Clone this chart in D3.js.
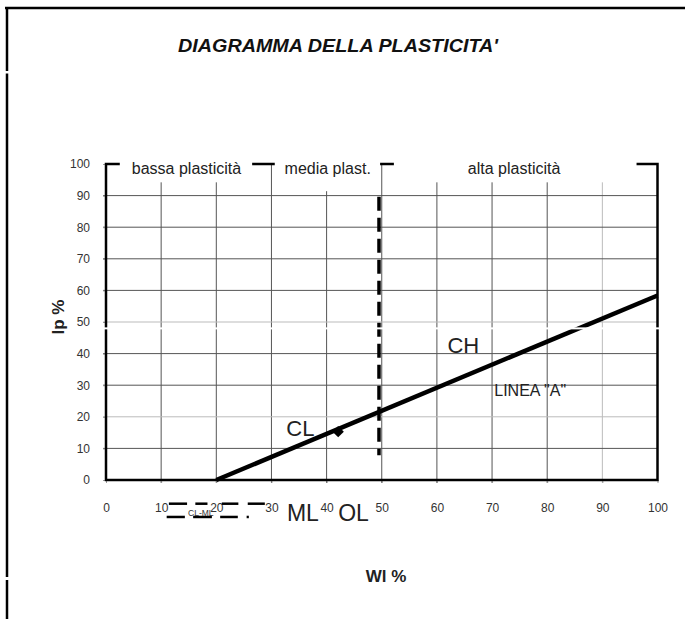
<!DOCTYPE html>
<html><head><meta charset="utf-8">
<script src="https://cdn.jsdelivr.net/npm/d3@7/dist/d3.min.js"></script>
<style>body{margin:0;background:#fff}svg{display:block}text{font-family:"Liberation Sans",Arial,sans-serif}</style>
</head><body>
<script>
// ---- data ----
const xTicks = [0,10,20,30,40,50,60,70,80,90,100];
const yTicks = [0,10,20,30,40,50,60,70,80,90,100];
const lightGridX = [90];
const lightGridY = [20,50];
const lineA = [{wl:20, ip:0},{wl:100, ip:58.4}];
const samples = [{wl:42.1, ip:15.3}];
const boundary = [{wl:49.5, ip:89.6},{wl:49.5, ip:7.8}];
const zoneNames = ["bassa plasticità","media plast.","alta plasticità"];
const zoneFrom = [2.5, 30.6, 52.2];
const zoneTo = [26.5, 49.7, 96.2];
const zoneBottom = [94.2, 91.4, 94.2];
const zoneTextX = [14.6, 40.2, 74.0];
const soilNames = ["CL","CH","LINEA \"A\"","ML","OL"];
const soilX = [32.7, 61.9, 70.4, 32.8, 42.1];
const soilY = [13.9, 40.2, 26.6, -13.0, -13.0];
const soilSize = [22, 22, 16, 23, 23];
const clmlTop = [[11.4,14.7],[16.2,18.4],[21.0,24.0],[25.7,28.8]];
const clmlBottom = [[11.0,14.3],[15.8,19.2],[20.7,23.9],[25.5,25.9]];
const clmlRowIp = [-7.5, -11.7];

// ---- drawing ----
const W = 685, H = 619;
const svg = d3.select("body").append("svg").attr("width", W).attr("height", H);
const x = d3.scaleLinear().domain([0,100]).range([106, 657.5]);
const y = d3.scaleLinear().domain([0,100]).range([480, 164]);

// outer frame
const frame = svg.append("g").attr("stroke","#000").attr("stroke-width",2.5);
frame.append("line").attr("x1",5).attr("x2",W).attr("y1",8).attr("y2",8);
frame.append("line").attr("x1",7).attr("x2",7).attr("y1",7).attr("y2",71);
frame.append("line").attr("x1",7).attr("x2",7).attr("y1",73.5).attr("y2",577);
frame.append("line").attr("x1",7).attr("x2",7).attr("y1",580).attr("y2",H);

// title
svg.append("text").attr("x",338).attr("y",52).attr("text-anchor","middle")
  .attr("font-size",19).attr("font-weight","bold").attr("font-style","italic").attr("fill","#111")
  .attr("textLength",320).attr("lengthAdjust","spacingAndGlyphs")
  .text("DIAGRAMMA DELLA PLASTICITA'");

// grid
const grid = svg.append("g");
grid.selectAll(".gx").data(xTicks.filter(d=>d>0&&d<100)).join("line")
  .attr("x1",d=>x(d)).attr("x2",d=>x(d)).attr("y1",y(100)).attr("y2",y(0)+3)
  .attr("stroke",d=>lightGridX.includes(d)?"#bbb":"#555").attr("stroke-width",1);
grid.selectAll(".gy").data(yTicks.filter(d=>d>0&&d<100)).join("line")
  .attr("x1",x(0)-3).attr("x2",x(100)).attr("y1",d=>y(d)).attr("y2",d=>y(d))
  .attr("stroke",d=>lightGridY.includes(d)?"#bbb":"#555").attr("stroke-width",1);

// axes with d3
const xAxis = svg.append("g").attr("transform",`translate(0,${y(0)})`)
  .call(d3.axisBottom(x).tickValues(xTicks).tickSize(3).tickPadding(20));
xAxis.select(".domain").remove();
xAxis.selectAll(".tick line").attr("stroke","#999");
xAxis.selectAll(".tick text").attr("font-size",12).attr("fill","#333").attr("font-family","Liberation Sans, Arial");
const yAxis = svg.append("g").attr("transform",`translate(${x(0)},0)`)
  .call(d3.axisLeft(y).tickValues(yTicks).tickSize(3).tickPadding(13));
yAxis.select(".domain").remove();
yAxis.selectAll(".tick line").attr("stroke","#999");
yAxis.selectAll(".tick text").attr("font-size",12).attr("fill","#333").attr("font-family","Liberation Sans, Arial");

// plot border
svg.append("rect").attr("x",x(0)).attr("y",y(100)).attr("width",x(100)-x(0)).attr("height",y(0)-y(100))
  .attr("fill","none").attr("stroke","#000").attr("stroke-width",2.5);

// zone label boxes
const zones = svg.append("g");
zoneNames.forEach((n,i)=>{
  zones.append("rect").attr("x",x(zoneFrom[i])).attr("y",y(100)-8)
    .attr("width",x(zoneTo[i])-x(zoneFrom[i])).attr("height",y(zoneBottom[i])-y(100)+8).attr("fill","#fff");
  zones.append("text").attr("x",x(zoneTextX[i])).attr("y",y(100)+10).attr("text-anchor","middle")
    .attr("font-size",16).attr("fill","#222").text(n);
});

// boundary dashed line
const line = d3.line().x(d=>x(d.wl)).y(d=>y(d.ip));
svg.append("path").attr("d",line(boundary)).attr("stroke","#000").attr("stroke-width",3.5)
  .attr("stroke-dasharray","14,7").attr("fill","none");

// A line
svg.append("path").attr("d",line(lineA)).attr("stroke","#000").attr("stroke-width",4.5).attr("fill","none");

// sample point (diamond = rotated square)
svg.selectAll(".pt").data(samples).join("path")
  .attr("d",d3.symbol(d3.symbolSquare,64)).attr("transform",d=>`translate(${x(d.wl)},${y(d.ip)}) rotate(45)`)
  .attr("fill","#000");

// tiling artifact band
svg.append("rect").attr("x",x(0)-5).attr("y",y(48.3)).attr("width",x(100)-x(0)+10).attr("height",2).attr("fill","#fff");

// soil labels
soilNames.forEach((n,i)=>{
  svg.append("text").attr("x",x(soilX[i])).attr("y",y(soilY[i])).attr("font-size",soilSize[i]).attr("fill","#222").text(n);
});

// CL-ML marks
[clmlTop, clmlBottom].forEach((row,r)=>{
  svg.selectAll(null).data(row).join("line")
    .attr("x1",d=>x(d[0])).attr("x2",d=>x(d[1])).attr("y1",y(clmlRowIp[r])).attr("y2",y(clmlRowIp[r]))
    .attr("stroke","#000").attr("stroke-width",2.5);
});
svg.append("text").attr("x",x(17.2)).attr("y",y(-11.3)).attr("text-anchor","middle")
  .attr("font-size",8.5).attr("fill","#333").text("CL-ML");

// axis titles
svg.append("text").attr("x",386).attr("y",582).attr("text-anchor","middle")
  .attr("font-size",17).attr("font-weight","bold").attr("fill","#222").text("Wl %");
svg.append("text").attr("transform","translate(64,317) rotate(-90)").attr("text-anchor","middle")
  .attr("font-size",17).attr("font-weight","bold").attr("fill","#222").text("Ip %");
</script>
</body></html>
